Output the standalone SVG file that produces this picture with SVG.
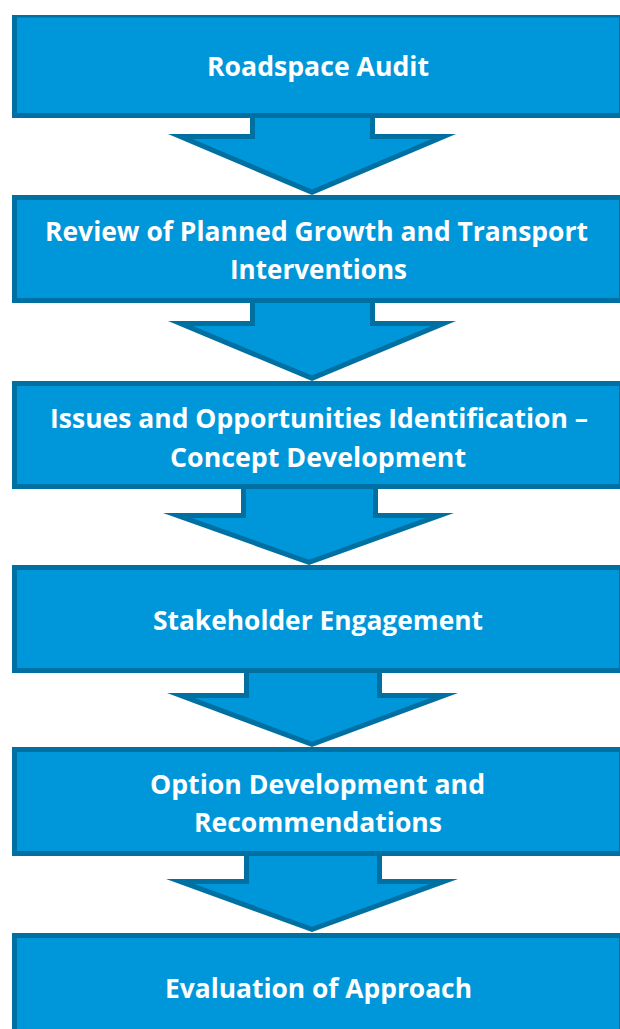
<svg xmlns="http://www.w3.org/2000/svg" width="620" height="1029" viewBox="0 0 620 1029">
  <style>
    .edge { fill: #0070A2; }
    .face { fill: #0097DA; }
    .label { font-family: "Open Sans", "Liberation Sans", sans-serif; font-weight: bold; font-size: 26.5px; fill: #FFFFFF; }
  </style>
  <rect width="620" height="1029" fill="#FFFFFF"/>

  <!-- block arrows between the stages: dark outline shape with a lighter inset face -->
  <g id="connectors">
    <g id="arrow-1">
      <polygon class="edge" points="250,110 375,110 375,134 456,134 312,195 168,134 250,134"/>
      <polygon class="face" points="255,110 370,110 370,139 431.4,139 312,189.6 192.6,139 255,139"/>
    </g>
    <g id="arrow-2">
      <polygon class="edge" points="250,298 375,298 375,321 456,321 312,381 168,321 250,321"/>
      <polygon class="face" points="255,298 370,298 370,326 431,326 312,375.6 193,326 255,326"/>
    </g>
    <g id="arrow-3">
      <polygon class="edge" points="241,484 378,484 378,513 454,513 309,565 163,513 241,513"/>
      <polygon class="face" points="246,484 373,484 373,518 425.1,518 309,559.7 191.9,518 246,518"/>
    </g>
    <g id="arrow-4">
      <polygon class="edge" points="244,668 382,668 382,693 458,693 312,747 167,693 244,693"/>
      <polygon class="face" points="249,668 377,668 377,698 430.2,698 312,741.7 194.8,698 249,698"/>
    </g>
    <g id="arrow-5">
      <polygon class="edge" points="244,851 382,851 382,879 458,879 312,932 166,879 244,879"/>
      <polygon class="face" points="249,851 377,851 377,884 429.6,884 312,926.7 194.4,884 249,884"/>
    </g>
  </g>

  <g id="roadspace-audit">
    <rect class="edge" x="12" y="15" width="612" height="103"/>
    <rect class="face" x="17" y="17.5" width="602" height="95.5"/>
    <text class="label" x="207" y="76" textLength="222" lengthAdjust="spacingAndGlyphs">Roadspace Audit</text>
  </g>

  <g id="review-planned-growth">
    <rect class="edge" x="12" y="195" width="612" height="108"/>
    <rect class="face" x="17" y="200" width="602" height="98"/>
    <text class="label" x="45" y="241" textLength="543" lengthAdjust="spacingAndGlyphs">Review of Planned Growth and Transport</text>
    <text class="label" x="230" y="279" textLength="177" lengthAdjust="spacingAndGlyphs">Interventions</text>
  </g>

  <g id="issues-opportunities">
    <rect class="edge" x="12" y="381" width="612" height="108"/>
    <rect class="face" x="17" y="386" width="602" height="98"/>
    <text class="label" x="50" y="428" textLength="538" lengthAdjust="spacingAndGlyphs">Issues and Opportunities Identification –</text>
    <text class="label" x="170" y="467" textLength="296" lengthAdjust="spacingAndGlyphs">Concept Development</text>
  </g>

  <g id="stakeholder-engagement">
    <rect class="edge" x="12" y="565" width="612" height="108"/>
    <rect class="face" x="17" y="570" width="602" height="98"/>
    <text class="label" x="153" y="630" textLength="330" lengthAdjust="spacingAndGlyphs">Stakeholder Engagement</text>
  </g>

  <g id="option-development">
    <rect class="edge" x="12" y="747" width="612" height="109"/>
    <rect class="face" x="17" y="752" width="602" height="99"/>
    <text class="label" x="150" y="794" textLength="335" lengthAdjust="spacingAndGlyphs">Option Development and</text>
    <text class="label" x="194" y="832" textLength="248" lengthAdjust="spacingAndGlyphs">Recommendations</text>
  </g>

  <g id="evaluation-approach">
    <rect class="edge" x="12" y="933" width="612" height="110"/>
    <rect class="face" x="17" y="938" width="602" height="100"/>
    <text class="label" x="165" y="998" textLength="307" lengthAdjust="spacingAndGlyphs">Evaluation of Approach</text>
  </g>
</svg>
